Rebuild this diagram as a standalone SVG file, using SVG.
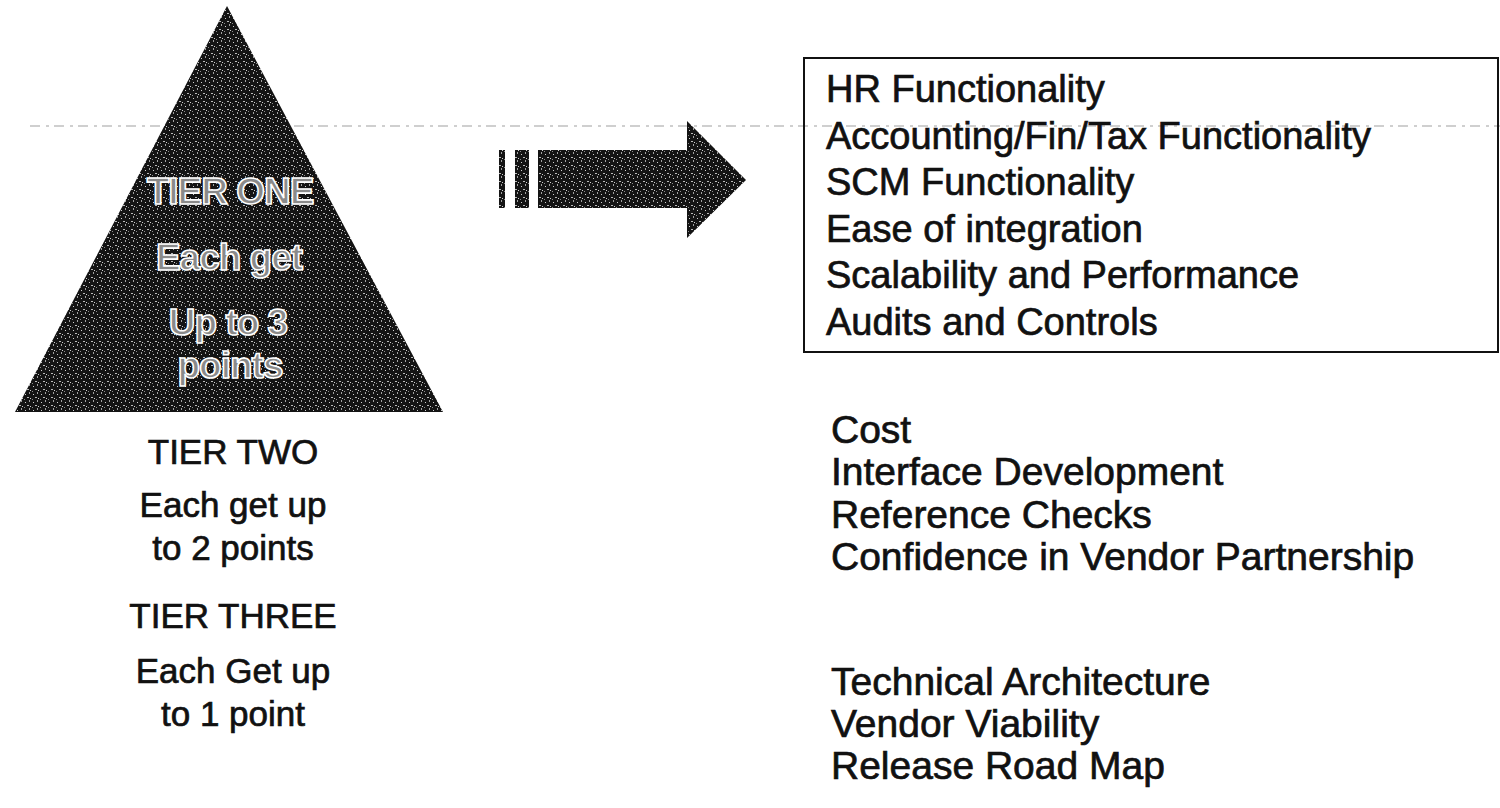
<svg xmlns="http://www.w3.org/2000/svg" width="1500" height="808" viewBox="0 0 1500 808">
  <defs>
    <pattern id="speckle" width="8" height="8" patternUnits="userSpaceOnUse">
      <rect width="8" height="8" fill="#141414"/>
      <rect x="1" y="2" width="1" height="1" fill="#fff" opacity="0.8"/>
      <rect x="5" y="0" width="1" height="2" fill="#fff" opacity="0.6"/>
      <rect x="3" y="5" width="2" height="1" fill="#fff" opacity="0.7"/>
      <rect x="6" y="6" width="1" height="1" fill="#fff" opacity="0.8"/>
      <rect x="0" y="7" width="1" height="1" fill="#fff" opacity="0.5"/>
    </pattern>
    <style>
      .lbl { font-family: "Liberation Sans", Arial, sans-serif; fill: #111; stroke: #111; stroke-width: 0.7px; }
      .list { font-size: 38px; }
      .list2 { font-size: 39px; }
      .tier { font-size: 35px; text-anchor: middle; }
      .inner { font-family: "Liberation Sans", Arial, sans-serif; font-weight: bold; font-size: 37px; text-anchor: middle; fill: #8a8a8a; stroke: #fff; stroke-width: 1.6px; letter-spacing: -1px; }
    </style>
  </defs>
  <rect width="1500" height="808" fill="#fff"/>

  <!-- faint scan line -->
  <line x1="30" y1="126" x2="1500" y2="126" stroke="#a0a0a0" stroke-width="1.2" stroke-dasharray="10 6 3 5"/>

  <g id="pyramid">
    <polygon points="227,6 443,412 15,412" fill="url(#speckle)"/>
    <text class="inner" x="230" y="204">TIER ONE</text>
    <text class="inner" x="229" y="270">Each get</text>
    <text class="inner" x="228" y="335">Up to 3</text>
    <text class="inner" x="230" y="378">points</text>
  </g>

  <g id="arrow">
    <rect x="499" y="150" width="6" height="58" fill="url(#speckle)"/>
    <rect x="515" y="150" width="14" height="58" fill="url(#speckle)"/>
    <polygon points="538,150 687,150 687,121 746,180 687,238 687,208 538,208" fill="url(#speckle)"/>
  </g>

  <g id="tier1-box">
    <rect x="804" y="58" width="694" height="294" fill="none" stroke="#111" stroke-width="2"/>
    <text class="lbl list" x="826" y="102">HR Functionality</text>
    <text class="lbl list" x="826" y="149">Accounting/Fin/Tax Functionality</text>
    <text class="lbl list" x="826" y="195">SCM Functionality</text>
    <text class="lbl list" x="826" y="242">Ease of integration</text>
    <text class="lbl list" x="826" y="288">Scalability and Performance</text>
    <text class="lbl list" x="826" y="335">Audits and Controls</text>
  </g>

  <g id="tier2-list">
    <text class="lbl list2" x="831" y="443">Cost</text>
    <text class="lbl list2" x="831" y="485">Interface Development</text>
    <text class="lbl list2" x="831" y="528">Reference Checks</text>
    <text class="lbl list2" x="831" y="570">Confidence in Vendor Partnership</text>
  </g>

  <g id="tier3-list">
    <text class="lbl list2" x="831" y="695">Technical Architecture</text>
    <text class="lbl list2" x="831" y="737">Vendor Viability</text>
    <text class="lbl list2" x="831" y="779">Release Road Map</text>
  </g>

  <g id="tier2-label">
    <text class="lbl tier" x="233" y="464">TIER TWO</text>
    <text class="lbl tier" x="233" y="517">Each get up</text>
    <text class="lbl tier" x="233" y="560">to 2 points</text>
  </g>

  <g id="tier3-label">
    <text class="lbl tier" x="233" y="628">TIER THREE</text>
    <text class="lbl tier" x="233" y="683">Each Get up</text>
    <text class="lbl tier" x="233" y="726">to 1 point</text>
  </g>
</svg>
